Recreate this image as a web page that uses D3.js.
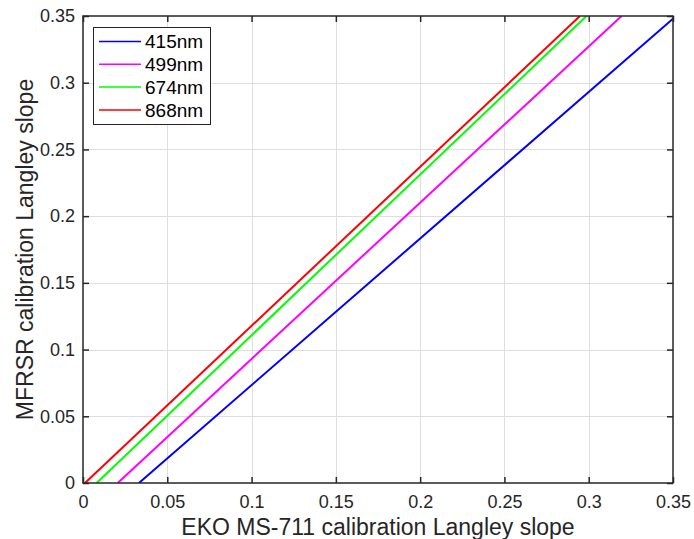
<!DOCTYPE html>
<html>
<head>
<meta charset="utf-8">
<script src="https://cdn.jsdelivr.net/npm/d3@7"></script>
<style>
  body { margin: 0; background: #fff; }
  svg { display: block; font-family: "Liberation Sans", Arial, Helvetica, sans-serif; }
</style>
</head>
<body>
<svg id="chart" width="694" height="539"></svg>
<script>
// Calibration Langley slope comparison, one regression line per channel
const channels = ["415nm", "499nm", "674nm", "868nm"];
const colors = ["#0000ff", "#ff00ff", "#00ff00", "#ff0000"];
// Each line runs from (xStart, 0) to (xEnd, yEnd)
const xStart = [0.0332, 0.0206, 0.0081, 0.0012];
const xEnd = [0.35, 0.3195, 0.2987, 0.2948];
const yEnd = [0.348, 0.35, 0.35, 0.35];
const xTicks = [0, 0.05, 0.1, 0.15, 0.2, 0.25, 0.3, 0.35];
const yTicks = [0, 0.05, 0.1, 0.15, 0.2, 0.25, 0.3, 0.35];

const margin = { left: 83, top: 16, right: 673, bottom: 483 };
const svg = d3.select("#chart");

const x = d3.scaleLinear().domain([0, 0.35]).range([margin.left, margin.right]);
const y = d3.scaleLinear().domain([0, 0.35]).range([margin.bottom, margin.top]);
const fmt = d => d === 0 ? "0" : String(+d.toFixed(2));

// grid
const grid = svg.append("g").attr("stroke", "#dedede").attr("stroke-width", 1);
grid.selectAll(".gx").data(xTicks.slice(1, -1)).join("line")
  .attr("x1", d => Math.round(x(d)) + 0.5).attr("x2", d => Math.round(x(d)) + 0.5)
  .attr("y1", margin.top).attr("y2", margin.bottom);
grid.selectAll(".gy").data(yTicks.slice(1, -1)).join("line")
  .attr("y1", d => Math.round(y(d)) + 0.5).attr("y2", d => Math.round(y(d)) + 0.5)
  .attr("x1", margin.left).attr("x2", margin.right);

// data lines
svg.append("defs").append("clipPath").attr("id", "plotclip").append("rect")
  .attr("x", margin.left).attr("y", margin.top)
  .attr("width", margin.right - margin.left).attr("height", margin.bottom - margin.top);
const line = d3.line().x(d => x(d[0])).y(d => y(d[1]));
svg.append("g").attr("clip-path", "url(#plotclip)")
  .selectAll("path").data(channels).join("path")
  .attr("d", (c, i) => line([[xStart[i], 0], [xEnd[i], yEnd[i]]]))
  .attr("fill", "none").attr("stroke", (c, i) => colors[i]).attr("stroke-width", 2);

// axes (inward ticks, boxed)
const tickLen = 6;
const axisColor = "#262626";
const xAxis = d3.axisBottom(x).tickValues(xTicks).tickFormat(fmt).tickSizeInner(-tickLen).tickSizeOuter(0).tickPadding(12);
const yAxis = d3.axisLeft(y).tickValues(yTicks).tickFormat(fmt).tickSizeInner(-tickLen).tickSizeOuter(0).tickPadding(8);
const gx = svg.append("g").attr("transform", `translate(0,${margin.bottom})`).call(xAxis);
const gy = svg.append("g").attr("transform", `translate(${margin.left},0)`).call(yAxis);
const gxt = svg.append("g").attr("transform", `translate(0,${margin.top})`)
  .call(d3.axisTop(x).tickValues(xTicks).tickFormat("").tickSizeInner(-tickLen).tickSizeOuter(0));
const gyr = svg.append("g").attr("transform", `translate(${margin.right},0)`)
  .call(d3.axisRight(y).tickValues(yTicks).tickFormat("").tickSizeInner(-tickLen).tickSizeOuter(0));
[gx, gy, gxt, gyr].forEach(g => {
  g.select(".domain").remove();
  g.selectAll("line").attr("stroke", axisColor).attr("stroke-width", 1.5);
  g.selectAll("text").attr("fill", axisColor).style("font-size", "18px")
    .style("font-family", "'Liberation Sans', Arial, sans-serif");
});
svg.append("rect").attr("x", margin.left).attr("y", margin.top)
  .attr("width", margin.right - margin.left).attr("height", margin.bottom - margin.top)
  .attr("fill", "none").attr("stroke", axisColor).attr("stroke-width", 1.5);

// axis titles
svg.append("text").attr("x", (margin.left + margin.right) / 2).attr("y", 535)
  .attr("text-anchor", "middle").attr("fill", axisColor).style("font-size", "23px")
  .text("EKO MS-711 calibration Langley slope");
svg.append("text").attr("transform", `translate(33,${(margin.top + margin.bottom) / 2}) rotate(-90)`)
  .attr("text-anchor", "middle").attr("fill", axisColor).style("font-size", "23px")
  .text("MFRSR calibration Langley slope");

// legend
const lg = svg.append("g");
lg.append("rect").attr("x", 93.5).attr("y", 27.5).attr("width", 117).attr("height", 97)
  .attr("fill", "#fff").attr("stroke", axisColor).attr("stroke-width", 1);
const rows = lg.selectAll("g.row").data(channels).join("g").attr("class", "row")
  .attr("transform", (c, i) => `translate(0,${41.5 + i * 22.8})`);
rows.append("line").attr("x1", 99).attr("x2", 141).attr("y1", 0).attr("y2", 0)
  .attr("stroke", (c, i) => colors[i]).attr("stroke-width", 1.5);
rows.append("text").attr("x", 145).attr("y", 0).attr("dy", "0.35em")
  .attr("fill", "#000").style("font-size", "19px").text(c => c);
</script>
</body>
</html>
